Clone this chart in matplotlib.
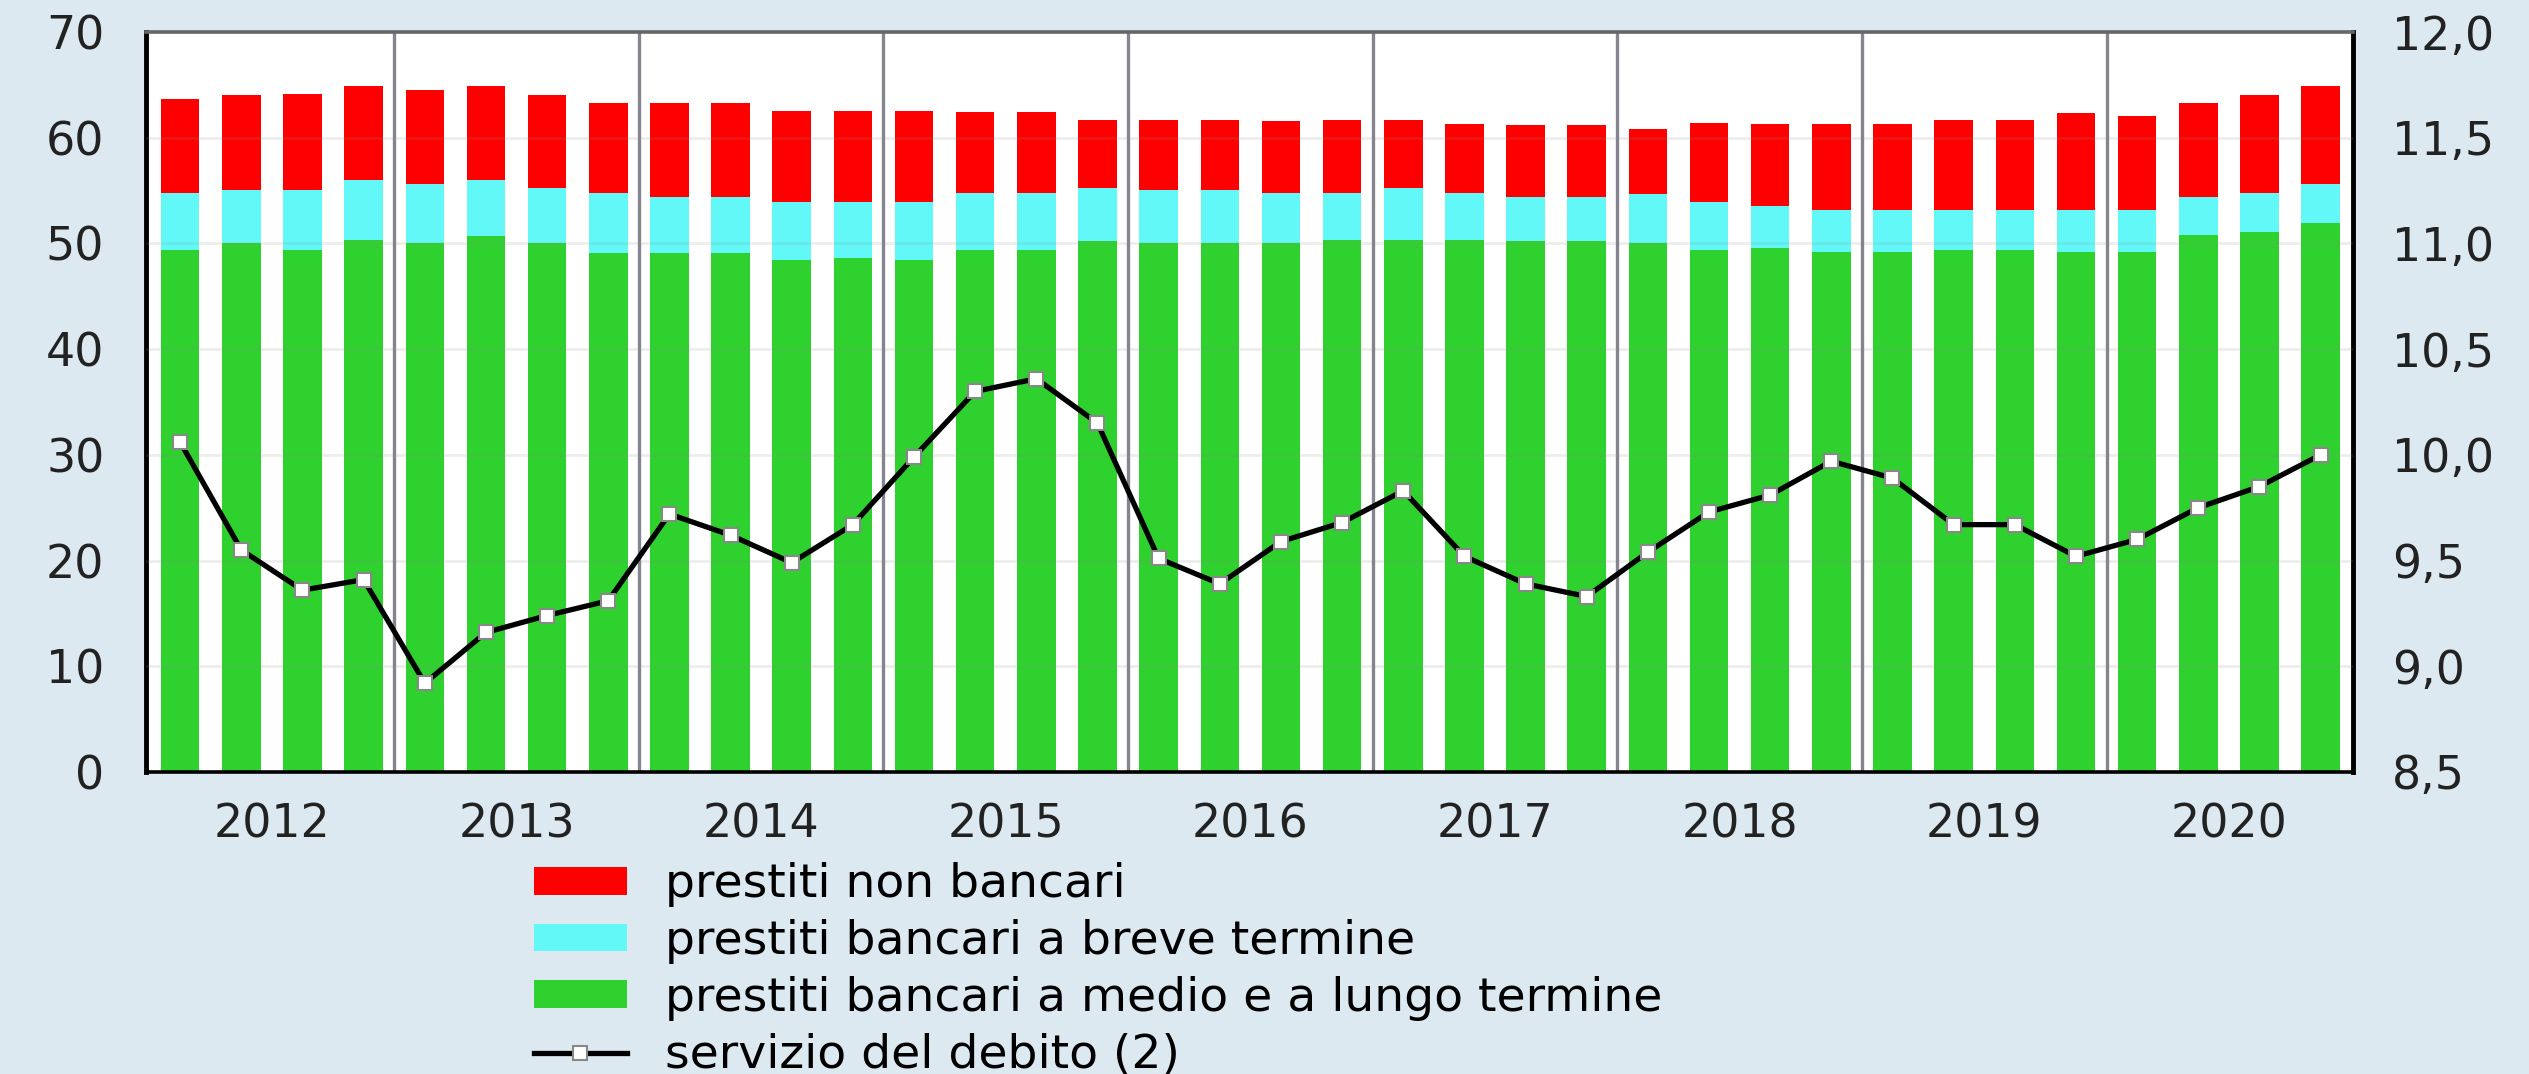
import matplotlib
matplotlib.use("Agg")
import matplotlib.pyplot as plt
import numpy as np

# valori (trimestri 2012-2020)
anni = ["2012", "2013", "2014", "2015", "2016", "2017", "2018", "2019", "2020"]

medio_lungo = [49.4, 50.0, 49.4, 50.3, 50.0, 50.7, 50.0, 49.1, 49.1, 49.1, 48.4, 48.6,
               48.4, 49.4, 49.4, 50.2, 50.0, 50.0, 50.0, 50.3, 50.3, 50.3, 50.2, 50.2,
               50.0, 49.4, 49.6, 49.2, 49.2, 49.4, 49.4, 49.2, 49.2, 50.8, 51.1, 51.9]
breve = [5.4, 5.1, 5.7, 5.7, 5.6, 5.3, 5.2, 5.7, 5.3, 5.3, 5.5, 5.3,
         5.5, 5.4, 5.4, 5.0, 5.1, 5.1, 4.8, 4.5, 4.9, 4.5, 4.2, 4.2,
         4.7, 4.5, 3.9, 4.0, 4.0, 3.8, 3.8, 4.0, 4.0, 3.6, 3.7, 3.7]
non_bancari = [8.9, 8.9, 9.0, 8.9, 8.9, 8.9, 8.8, 8.5, 8.9, 8.9, 8.6, 8.6,
               8.6, 7.6, 7.6, 6.5, 6.6, 6.6, 6.8, 6.9, 6.5, 6.5, 6.8, 6.8,
               6.1, 7.5, 7.8, 8.1, 8.1, 8.5, 8.5, 9.1, 8.9, 8.9, 9.2, 9.3]
servizio = [10.06, 9.55, 9.36, 9.41, 8.92, 9.16, 9.24, 9.31, 9.72, 9.62, 9.49, 9.67,
            9.99, 10.30, 10.36, 10.15, 9.51, 9.39, 9.59, 9.68, 9.83, 9.52, 9.39, 9.33,
            9.54, 9.73, 9.81, 9.97, 9.89, 9.67, 9.67, 9.52, 9.60, 9.75, 9.85, 10.00]

sx_ticks = [0, 10, 20, 30, 40, 50, 60, 70]
dx_ticks = [8.5, 9.0, 9.5, 10.0, 10.5, 11.0, 11.5, 12.0]

plt.rcParams['font.family'] = ['DejaVu Sans']
bg = '#dde9f1'
verde = '#2fd12f'
ciano = '#62f8f8'
rosso = '#ff0000'

fig = plt.figure(figsize=(25.29, 10.74), dpi=100, facecolor=bg)
ax = fig.add_axes([0.0577, 0.2812, 0.8727, 0.689])
ax.set_facecolor('white')

x = np.arange(len(medio_lungo))
verde_arr = np.array(medio_lungo)
ciano_arr = np.array(breve)
rosso_arr = np.array(non_bancari)
w = 0.63

# linee verticali tra gli anni
for k in range(1, len(anni)):
    ax.axvline(4 * k - 0.5, color='#85858f', lw=2.4, zorder=1)

b1 = ax.bar(x, verde_arr, w, color=verde, zorder=2,
            label='prestiti bancari a medio e a lungo termine')
b2 = ax.bar(x, ciano_arr, w, bottom=verde_arr, color=ciano, zorder=2,
            label='prestiti bancari a breve termine')
b3 = ax.bar(x, rosso_arr, w, bottom=verde_arr + ciano_arr, color=rosso, zorder=2,
            label='prestiti non bancari')

for v in sx_ticks[1:-1]:
    ax.axhline(v, color='#888888', lw=2, alpha=0.15, zorder=3)

ax.set_xlim(-0.56, 35.53)
ax.set_ylim(0, 70)
ax.set_yticks(sx_ticks)
ax.set_xticks([4 * i + 1.5 for i in range(len(anni))])
ax.set_xticklabels(anni)
ax.tick_params(axis='y', length=0, pad=30, labelsize=33, labelcolor='#222222')
ax.tick_params(axis='x', length=0, pad=22, labelsize=33, labelcolor='#222222')

for s in ['left', 'right']:
    ax.spines[s].set_linewidth(3.5)
    ax.spines[s].set_color('black')
ax.spines['bottom'].set_linewidth(2.6)
ax.spines['bottom'].set_color('black')
ax.spines['top'].set_linewidth(2.6)
ax.spines['top'].set_color('#666666')

ax2 = ax.twinx()
ln, = ax2.plot(x, servizio, color='black', lw=3.8, marker='s', markersize=10,
               markerfacecolor='white', markeredgecolor='#888888', markeredgewidth=1.5,
               zorder=5, label='servizio del debito (2)')
ax2.set_ylim(8.5, 12.0)
ax2.set_yticks(dx_ticks)
ax2.set_yticklabels([f"{v:.1f}".replace('.', ',') for v in dx_ticks])
ax2.tick_params(axis='y', length=0, pad=28, labelsize=33, labelcolor='#222222')
for s in ax2.spines.values():
    s.set_visible(False)

fig.legend(handles=[b3, b2, b1, ln], loc='upper left', bbox_to_anchor=(0.211, 0.197),
           frameon=False, fontsize=34, handlelength=1.98, handleheight=0.53,
           handletextpad=0.8, labelspacing=0.25, borderaxespad=0, borderpad=0)

fig.savefig('out.png', dpi=100, facecolor=bg)
